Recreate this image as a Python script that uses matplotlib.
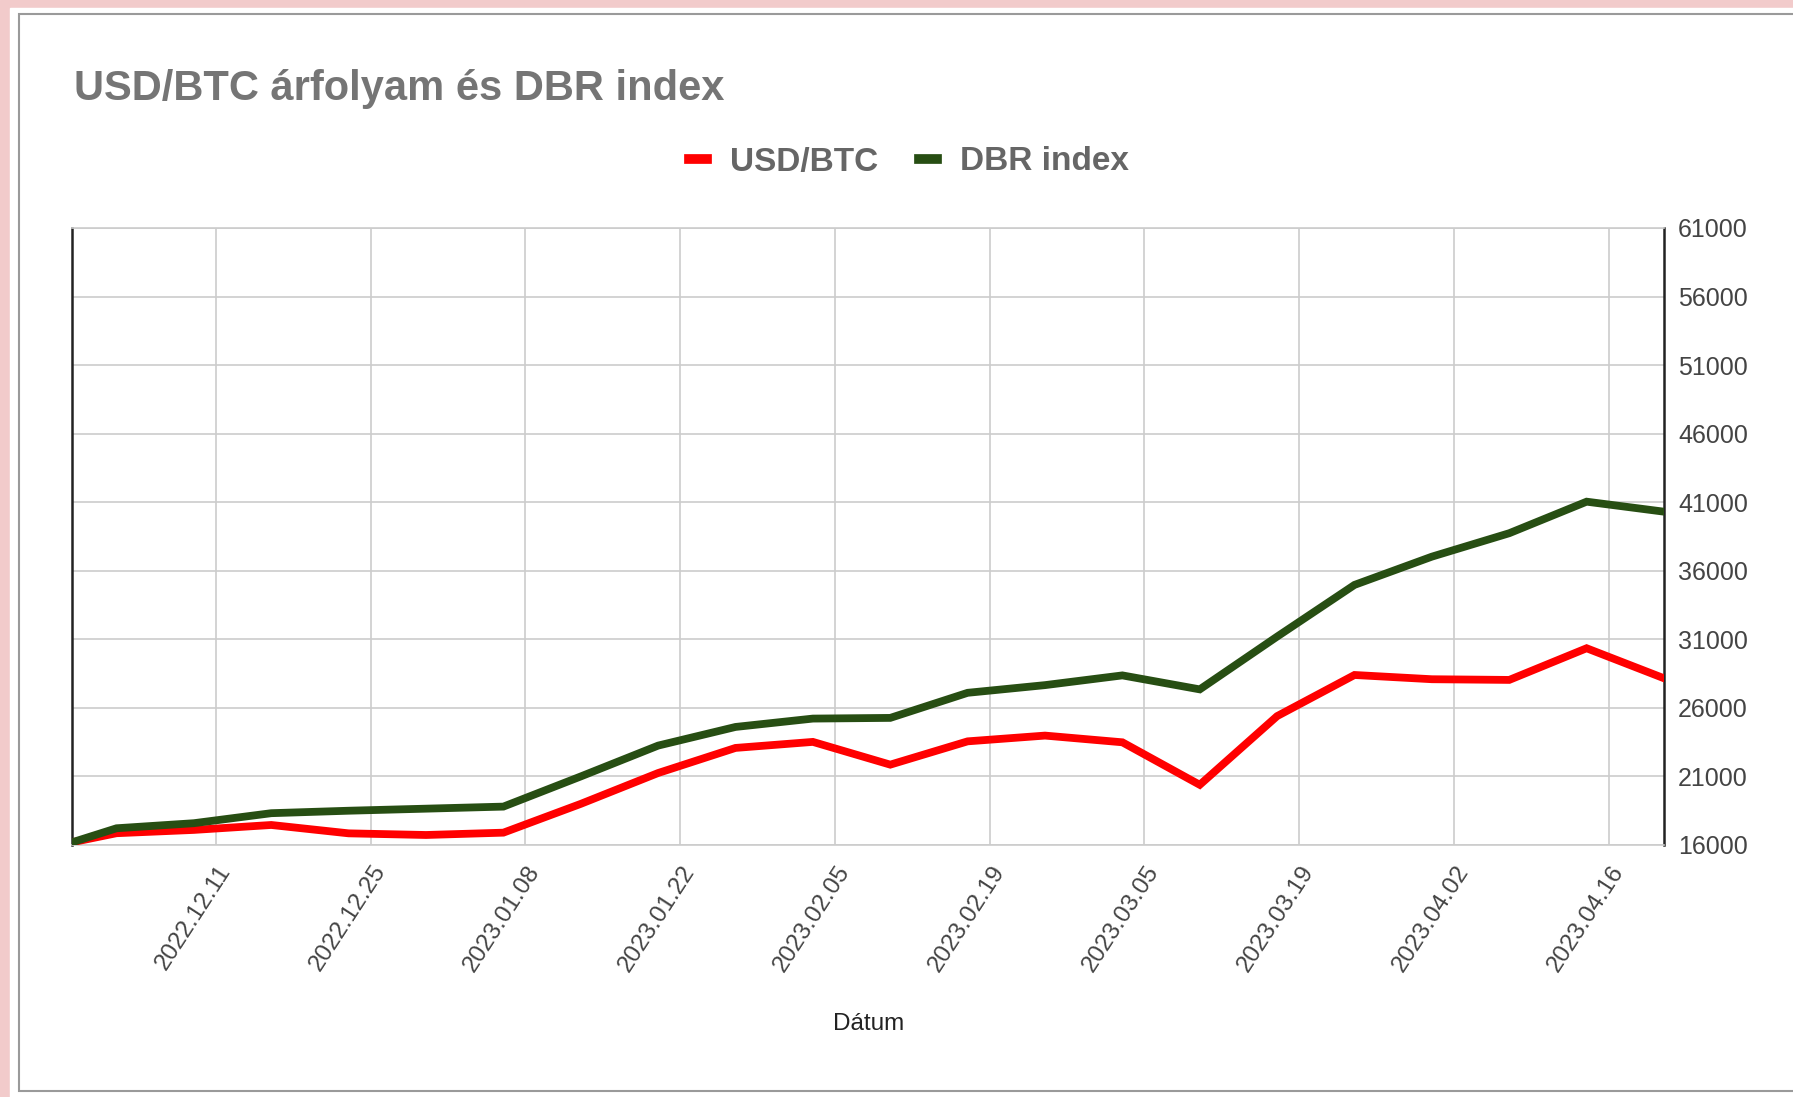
import matplotlib
matplotlib.use("Agg")
import matplotlib.pyplot as plt
import matplotlib.dates as mdates
from matplotlib.patches import Rectangle
from matplotlib.transforms import ScaledTranslation
import numpy as np

plt.rcParams['font.family'] = ['Liberation Sans', 'DejaVu Sans']

# weekly data
dates = ["2022-11-28", "2022-12-02", "2022-12-09", "2022-12-16", "2022-12-23", "2022-12-30",
         "2023-01-06", "2023-01-13", "2023-01-20", "2023-01-27", "2023-02-03", "2023-02-10",
         "2023-02-17", "2023-02-24", "2023-03-03", "2023-03-10", "2023-03-17", "2023-03-24",
         "2023-03-31", "2023-04-07", "2023-04-14", "2023-04-21"]
usd_btc = [16200, 16860, 17100, 17460, 16850, 16730, 16900, 19000, 21250, 23080, 23520,
           21860, 23560, 23980, 23490, 20390, 25400, 28400, 28090, 28040, 30350, 28160]
dbr_index = [16200, 17220, 17590, 18320, 18500, 18650, 18800, 21000, 23250, 24610, 25220,
             25270, 27100, 27660, 28370, 27350, 31200, 34970, 37030, 38740, 41040, 40310]
tick_dates = ["2022-12-11", "2022-12-25", "2023-01-08", "2023-01-22", "2023-02-05",
              "2023-02-19", "2023-03-05", "2023-03-19", "2023-04-02", "2023-04-16"]
y_ticks = [16000, 21000, 26000, 31000, 36000, 41000, 46000, 51000, 56000, 61000]

x = np.array(dates, dtype="datetime64[D]")
xt = np.array(tick_dates, dtype="datetime64[D]")

W, H = 1793, 1097
fig = plt.figure(figsize=(W / 100, H / 100), dpi=100)

# screenshot frame: pink sheet background, white chart card with grey border
fig.patches.append(Rectangle((0, 0), 1, 1, transform=fig.transFigure, color="#f2cbcb", zorder=-10))
fig.patches.append(Rectangle((10 / W, 0), 1, 1 - 8 / H, transform=fig.transFigure,
                             color="white", zorder=-9))
fig.patches.append(Rectangle((19 / W, 6 / H), 1, 1 - 20 / H, transform=fig.transFigure,
                             facecolor="white", edgecolor="#9a9a9a", lw=1.5, zorder=-8))

ax = fig.add_axes([72.3 / W, 1 - 845 / H, (1664 - 72.3) / W, (845 - 228) / H])

red = "#ff0000"
green = "#274e13"
ax.plot(x, usd_btc, color=red, lw=5.6, label="USD/BTC", solid_joinstyle="miter", zorder=3)
ax.plot(x, dbr_index, color=green, lw=5.6, label="DBR index", solid_joinstyle="miter", zorder=4)

ax.set_xlim(x[0], x[-1])
ax.set_ylim(16000, 61000)
ax.set_xticks(xt)
ax.xaxis.set_major_formatter(mdates.DateFormatter("%Y.%m.%d"))
ax.set_yticks(y_ticks)
ax.yaxis.tick_right()
ax.tick_params(axis="y", length=0, pad=10, labelsize=18, labelcolor="#444444")
ax.tick_params(axis="x", length=0, pad=16, labelsize=17.5, labelcolor="#444444")
for lab in ax.get_xticklabels():
    lab.set_rotation(57)
    lab.set_ha("right")
    lab.set_va("center")
    lab.set_rotation_mode("anchor")
    lab.set_transform(lab.get_transform() + ScaledTranslation(0.10, 0, fig.dpi_scale_trans))

ax.grid(True, color="#cccccc", lw=1.2)
ax.set_axisbelow(True)
for s in ["top", "bottom"]:
    ax.spines[s].set_color("#cccccc")
    ax.spines[s].set_linewidth(1.2)
for s in ["left", "right"]:
    ax.spines[s].set_color("#222222")
    ax.spines[s].set_linewidth(1.8)

fig.text(74 / W, 1 - 89 / H, "USD/BTC árfolyam és DBR index", fontsize=30,
         fontweight="bold", color="#757575", ha="left", va="center")
fig.text(869 / W, 1 - 1024 / H, "Dátum", fontsize=17.5, color="#222222", ha="center", va="center")

fig.legend(loc="center", bbox_to_anchor=(909 / W, 1 - 162 / H), ncol=2, frameon=False,
           handlelength=0.55, handletextpad=0.7, columnspacing=1.2,
           prop={"weight": "bold", "size": 24}, labelcolor="#666666")
for h in fig.legends[0].legend_handles:
    h.set_linewidth(7)

fig.savefig("out.png", dpi=100)
